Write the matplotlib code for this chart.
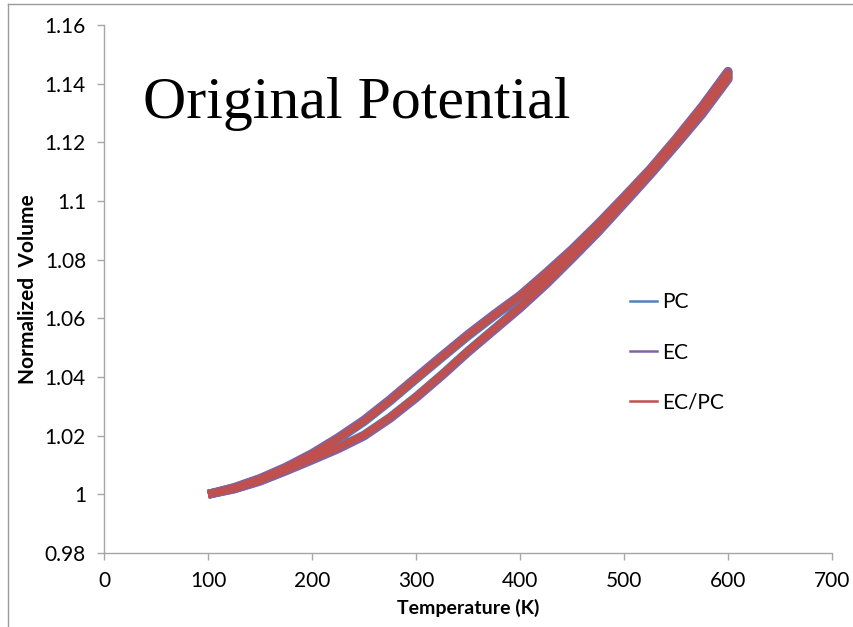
import matplotlib
matplotlib.use("Agg")
import matplotlib.pyplot as plt
from matplotlib.lines import Line2D
from matplotlib.ticker import FuncFormatter

# ---- data ----
temps = [100, 125, 150, 175, 200, 225, 250, 275, 300, 325, 350, 375, 400,
         425, 450, 475, 500, 525, 550, 575, 600]
# upper branch (cooling) and lower branch (heating) of each loop
pc_upper = [1.0000, 1.0022, 1.0052, 1.0090, 1.0135, 1.0188, 1.0248, 1.0318, 1.0393, 1.0467,
            1.0540, 1.0608, 1.0673, 1.0750, 1.0830, 1.0918, 1.1010, 1.1105, 1.1208, 1.1318, 1.1440]
pc_lower = [1.0000, 1.0019, 1.0046, 1.0082, 1.0120, 1.0158, 1.0202, 1.0262, 1.0332, 1.0408,
            1.0488, 1.0563, 1.0638, 1.0720, 1.0808, 1.0898, 1.0995, 1.1093, 1.1195, 1.1300, 1.1420]
ec_upper = [1.0000, 1.0023, 1.0054, 1.0093, 1.0139, 1.0193, 1.0253, 1.0323, 1.0398, 1.0472,
            1.0545, 1.0613, 1.0678, 1.0755, 1.0835, 1.0922, 1.1014, 1.1108, 1.1212, 1.1322, 1.1442]
ec_lower = [1.0000, 1.0018, 1.0045, 1.0080, 1.0117, 1.0155, 1.0199, 1.0259, 1.0329, 1.0405,
            1.0485, 1.0560, 1.0635, 1.0716, 1.0804, 1.0894, 1.0991, 1.1089, 1.1191, 1.1296, 1.1415]
ecpc_upper = [1.0000, 1.0022, 1.0052, 1.0091, 1.0136, 1.0189, 1.0249, 1.0319, 1.0394, 1.0468,
              1.0542, 1.0610, 1.0675, 1.0752, 1.0832, 1.0920, 1.1012, 1.1106, 1.1210, 1.1320, 1.1438]
ecpc_lower = [1.0000, 1.0019, 1.0047, 1.0083, 1.0121, 1.0159, 1.0203, 1.0263, 1.0333, 1.0409,
              1.0489, 1.0564, 1.0639, 1.0721, 1.0809, 1.0899, 1.0996, 1.1094, 1.1196, 1.1302, 1.1418]

series_names = ["PC", "EC", "EC/PC"]
series_colors = ["#4F81BD", "#8064A2", "#C0504D"]

x_ticks = [0, 100, 200, 300, 400, 500, 600, 700]
y_ticks = [0.98, 1.0, 1.02, 1.04, 1.06, 1.08, 1.1, 1.12, 1.14, 1.16]

title_text = "Original Potential"
x_label = "Temperature (K)"
y_label = "Normalized  Volume"

# ---- figure ----
W, H = 854, 627
fig = plt.figure(figsize=(W / 100, H / 100), dpi=100)
ax = fig.add_axes([104 / W, 1 - 553 / H, (832 - 104) / W, (553 - 25) / H])

tick_font = "Lato"
grey = "#A6A6A6"

loops = [(pc_upper, pc_lower), (ec_upper, ec_lower), (ecpc_upper, ecpc_lower)]
widths = [6.5, 6.5, 5.0]
for (up, lo), name, col, lw in zip(loops, series_names, series_colors, widths):
    xs = temps + temps[::-1]
    ys = lo + up[::-1]
    ax.plot(xs, ys, color=col, lw=lw, solid_capstyle="butt", solid_joinstyle="round",
            label=name)

ax.set_xlim(x_ticks[0], x_ticks[-1])
ax.set_ylim(y_ticks[0], y_ticks[-1])
ax.set_xticks(x_ticks)
ax.set_yticks(y_ticks)
ax.yaxis.set_major_formatter(FuncFormatter(lambda v, p: f"{round(v, 4):g}"))

for s in ["top", "right"]:
    ax.spines[s].set_visible(False)
for s in ["left", "bottom"]:
    ax.spines[s].set_color(grey)
    ax.spines[s].set_linewidth(1.0)
ax.tick_params(axis="both", direction="out", length=5, width=1.0, color=grey,
               labelsize=15, labelcolor="#000000", pad=8)
for lab in ax.get_xticklabels() + ax.get_yticklabels():
    lab.set_fontfamily(tick_font)

ax.set_xlabel(x_label, fontsize=14, fontweight="bold", family=tick_font, labelpad=6)
ax.set_ylabel(y_label, fontsize=15, fontweight="bold", family=tick_font, labelpad=5)

ax.text(143 / W, 1 - 118 / H, title_text, transform=fig.transFigure,
        family="Liberation Serif", fontsize=43, ha="left", va="baseline")

leg_handles = [Line2D([0], [0], color=c, lw=1.8) for c in series_colors]
ax.legend(leg_handles, series_names, loc="upper left", frameon=False,
          bbox_to_anchor=((622 - 104) / (832 - 104), (553 - 284) / (553 - 25)),
          prop={"family": tick_font, "size": 15}, handlelength=1.3, handletextpad=0.25,
          labelspacing=1.45, borderaxespad=0)

# outer frame lines (top and left of picture)
fig.add_artist(Line2D([8 / W, 8 / W], [0, 1 - 4 / H], transform=fig.transFigure,
                      color="#9A9A9A", lw=1.0))
fig.add_artist(Line2D([8 / W, 1], [1 - 4 / H, 1 - 4 / H], transform=fig.transFigure,
                      color="#9A9A9A", lw=1.0))

fig.savefig("out.png", dpi=100, facecolor="white")
